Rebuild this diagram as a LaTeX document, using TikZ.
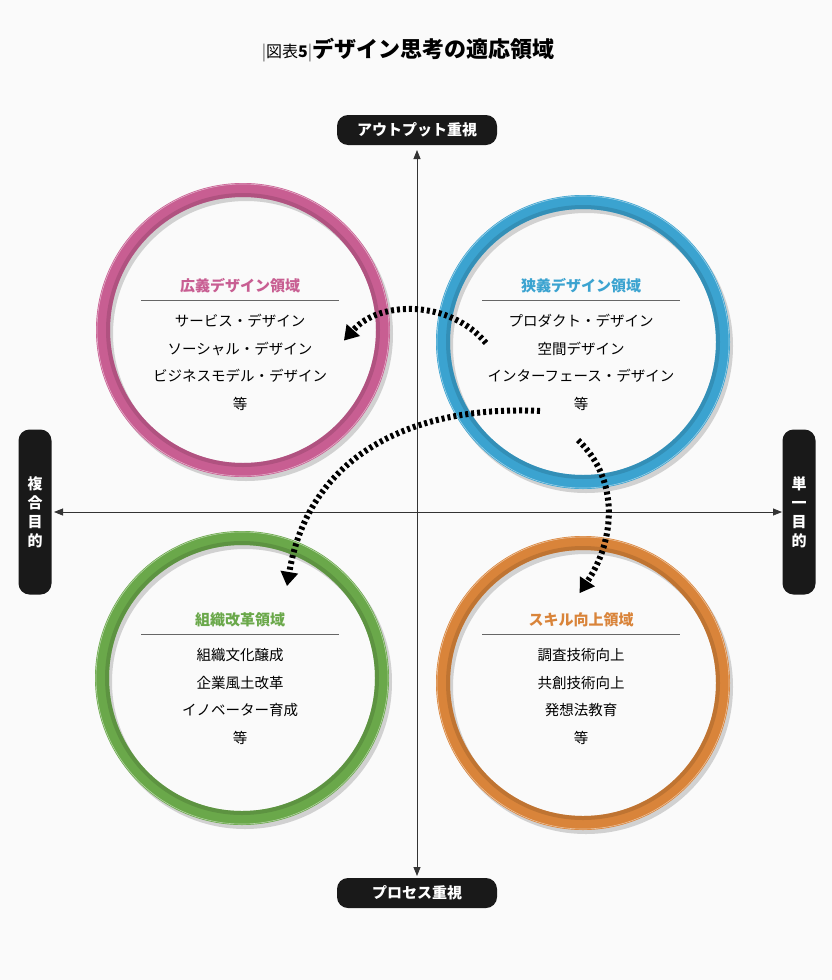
\documentclass[tikz,border=0pt]{standalone}
\usepackage{fontspec}
\setmainfont{Noto Sans CJK JP}
\usetikzlibrary{arrows.meta}
\definecolor{widepink}{RGB}{200,94,146}
\definecolor{narrowblue}{RGB}{59,163,208}
\definecolor{orggreen}{RGB}{106,168,74}
\definecolor{skillorange}{RGB}{217,132,58}
\begin{document}
\begin{tikzpicture}[x=1pt, y=-1pt,
    axis/.style = {line width=0.8pt, black!80, -{Triangle[length=9pt, width=7pt]}},
    pill/.style = {fill=black!90, rounded corners=11pt, text=white,
                   font=\bfseries\fontsize{15}{17}\selectfont, inner sep=0pt},
    heading/.style = {font=\bfseries\fontsize{15}{17}\selectfont},
    item/.style = {font=\fontsize{14.5}{27.5}\selectfont, align=center},
    ring/.style = {line width=14pt, draw=#1},
    flow/.style = {line width=6pt, dash pattern=on 3pt off 3pt,
                   -{Triangle[length=14pt, width=18pt, line width=0pt]}, shorten >=-6pt},
  ]
  \useasboundingbox (0,0) rectangle (832,980);
  \fill [white!98!black] (0,0) rectangle (832,980);

  %% Title
  \node (title) at (408,50) {\fontsize{16}{18}\selectfont\textcolor{black!60}{|}図表\textbf{5}\textcolor{black!60}{|}%
    \bfseries\fontsize{22}{25}\selectfont デザイン思考の適応領域};

  %% Axes
  \coordinate (top) at (417,150);
  \coordinate (bottom) at (417,876);
  \coordinate (left) at (54,512);
  \coordinate (right) at (782,512);
  \coordinate (origin) at (417,512);
  \draw [axis] (origin) -- (top);
  \draw [axis] (origin) -- (bottom);
  \draw [axis] (origin) -- (left);
  \draw [axis] (origin) -- (right);

  \node [pill, minimum width=160pt, minimum height=30pt] (output) at (417,130) {アウトプット重視};
  \node [pill, minimum width=160pt, minimum height=30pt] (process) at (417,893) {プロセス重視};
  \node [pill, minimum width=33pt, minimum height=165pt, align=center,
         font=\bfseries\fontsize{15}{19}\selectfont] (multi) at (35,512) {複\\合\\目\\的};
  \node [pill, minimum width=33pt, minimum height=165pt, align=center,
         font=\bfseries\fontsize{15}{19}\selectfont] (single) at (799,512) {単\\一\\目\\的};

  %% Rings
  \foreach \cx/\cy/\col in {243/330/widepink, 583/342/narrowblue,
                            242/678/orggreen, 583/683/skillorange}{%
    \draw [ring=black!18] (\cx+3,\cy+4) circle (140pt);
    \draw [ring=\col] (\cx,\cy) circle (140pt);
    \draw [line width=4pt, \col!80!black, opacity=.6] (\cx,\cy) circle (135pt);
    \draw [line width=0.6pt, white, opacity=.5] (\cx,\cy) circle (146pt);
  }

  %% Texts of the four areas
  \foreach \cx/\ty/\col/\head/\body in {
      240/286/widepink/広義デザイン領域/{サービス・デザイン\\ソーシャル・デザイン\\ビジネスモデル・デザイン\\等},
      581/286/narrowblue/狭義デザイン領域/{プロダクト・デザイン\\空間デザイン\\インターフェース・デザイン\\等},
      240/620/orggreen/組織改革領域/{組織文化醸成\\企業風土改革\\イノベーター育成\\等},
      581/620/skillorange/スキル向上領域/{調査技術向上\\共創技術向上\\発想法教育\\等}}{%
    \node [heading, text=\col] at (\cx,\ty) {\head};
    \draw [black!60, line width=0.8pt] (\cx-99,\ty+14) -- (\cx+99,\ty+14);
    \node [item, anchor=north] at (\cx,\ty+25) {\body};
  }

  %% Flows from the narrow design area
  \coordinate (narrowA) at (486,343);
  \coordinate (wideEnd) at (348,336);
  \coordinate (narrowB) at (540,411);
  \coordinate (orgEnd) at (288,580);
  \coordinate (narrowC) at (578,440);
  \coordinate (skillEnd) at (583,588);
  \draw [flow] (narrowA) .. controls (450,300) and (380,300) .. (wideEnd);
  \draw [flow] (narrowB) .. controls (420,405) and (310,450) .. (orgEnd);
  \draw [flow] (narrowC) .. controls (620,480) and (615,540) .. (skillEnd);
\end{tikzpicture}
\end{document}
